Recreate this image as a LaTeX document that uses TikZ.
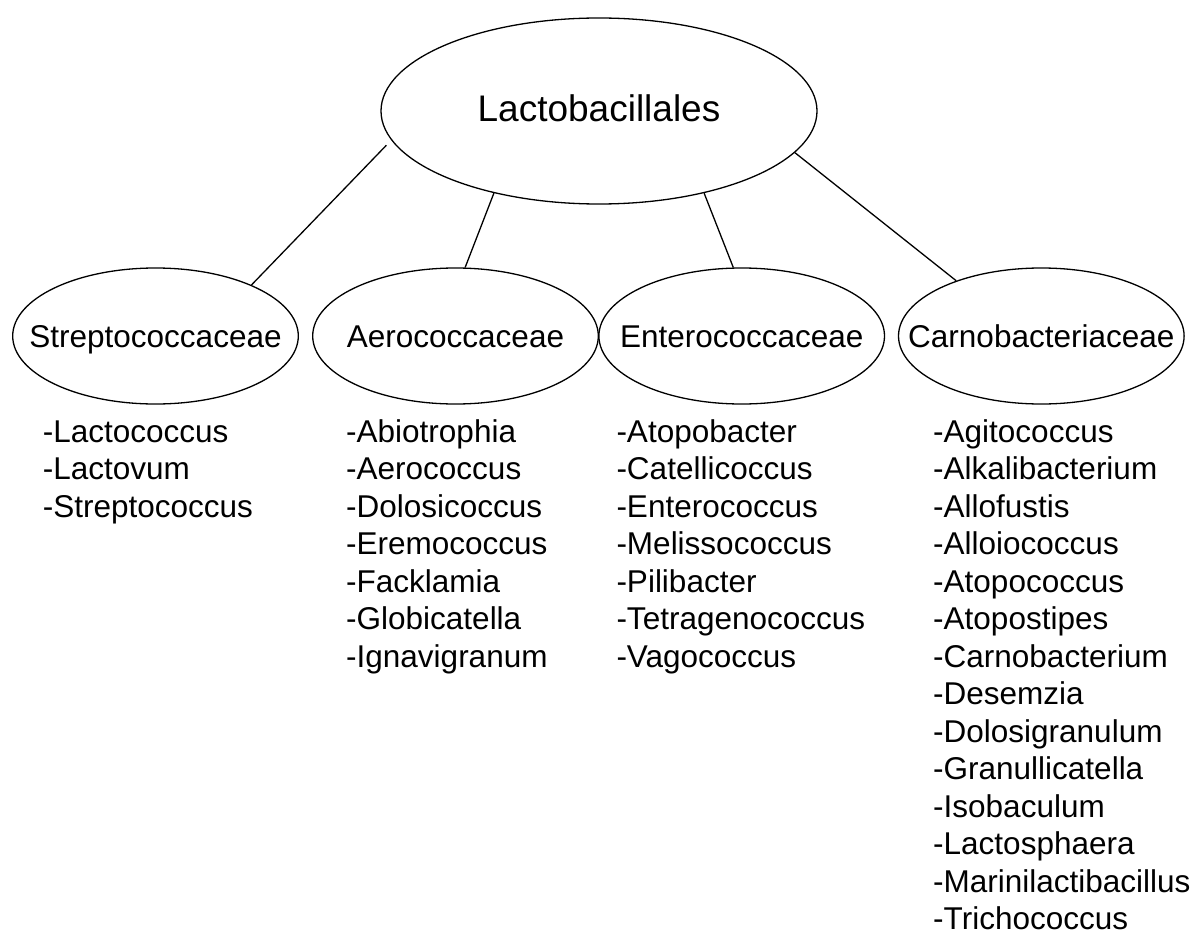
\documentclass[tikz,border=0pt]{standalone}
\usepackage{fontspec}
\setmainfont{Liberation Sans}
\usetikzlibrary{shapes.geometric}
\tikzset{
  oval/.style={draw=black, ellipse, line width=1.3pt, inner sep=0pt, text depth=0pt},
  famoval/.style={oval, minimum width=285.6pt, minimum height=136pt, text height=22.6pt,
    font=\fontsize{31.5}{38}\selectfont},
  topoval/.style={oval, minimum width=436pt, minimum height=186pt, text height=26.5pt,
    font=\fontsize{37}{44}\selectfont},
  link/.style={line width=1.3pt},
  genus/.style={anchor=base west, inner sep=0pt, font=\fontsize{31.5}{38}\selectfont},
}
\begin{document}
\begin{tikzpicture}[x=1pt,y=-1pt]
\useasboundingbox (0,0) rectangle (1201,936);
\fill[white] (0,0) rectangle (1201,936);

\node[topoval] (lac) at (599,111) {\makebox[0pt]{\raisebox{2.5pt}{Lactobacillales}}};

\node[famoval] (strep) at (155.5,336) {\makebox[0pt]{Streptococcaceae}};
\node[famoval] (aero)  at (455.5,336) {\makebox[0pt]{Aerococcaceae}};
\node[famoval] (entero) at (741.7,336) {\makebox[0pt]{Enterococcaceae}};
\node[famoval] (carno) at (1041.3,336) {\makebox[0pt]{Carnobacteriaceae}};

\draw[link, shorten <=7pt] (lac.188.9) -- (strep.28.1);
\draw[link] (lac.218.1) -- (aero.82.6);
\draw[link] (lac.322.0) -- (entero.97.3);
\draw[link] (lac.348.8) -- (carno.147.0);

\foreach \g [count=\i] in {-Lactococcus,-Lactovum,-Streptococcus}
  \node[genus] (s\i) at (42.6,{442+37.5*(\i-1)}) {\g};

\foreach \g [count=\i] in {-Abiotrophia,-Aerococcus,-Dolosicoccus,-Eremococcus,-Facklamia,-Globicatella,-Ignavigranum}
  \node[genus] (a\i) at (346,{442+37.5*(\i-1)}) {\g};

\foreach \g [count=\i] in {-Atopobacter,-Catellicoccus,-Enterococcus,-Melissococcus,-Pilibacter,-Tetragenococcus,-Vagococcus}
  \node[genus] (e\i) at (616.3,{442+37.5*(\i-1)}) {\g};

\foreach \g [count=\i] in {-Agitococcus,-Alkalibacterium,-Allofustis,-Alloiococcus,-Atopococcus,-Atopostipes,-Carnobacterium,-Desemzia,-Dolosigranulum,-Granullicatella,-Isobaculum,-Lactosphaera,-Marinilactibacillus,-Trichococcus}
  \node[genus] (c\i) at (933,{442+37.5*(\i-1)}) {\g};
\end{tikzpicture}
\end{document}
